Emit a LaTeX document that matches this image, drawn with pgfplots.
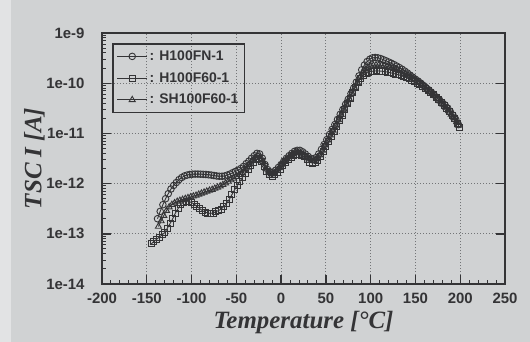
\documentclass[border=0pt]{standalone}
\usepackage{fontspec}
\setmainfont{Liberation Serif}
\setsansfont{Liberation Sans}
\usepackage{pgfplots}
\usepackage{pgfplotstable}
\pgfplotsset{compat=1.18}

\definecolor{paper}{RGB}{208,210,211}
\definecolor{paperedge}{RGB}{226,227,228}
\definecolor{ink}{RGB}{52,52,54}
\definecolor{gridc}{RGB}{115,117,119}

% H100FN-1
\pgfplotstableread{
T I
-138 2.0e-13
-135 2.8e-13
-132 3.8e-13
-129 5.0e-13
-126 6.3e-13
-123 7.8e-13
-120 9.2e-13
-117 1.05e-12
-114 1.2e-12
-111 1.32e-12
-108 1.42e-12
-105 1.48e-12
-102 1.52e-12
-99 1.54e-12
-96 1.55e-12
-93 1.55e-12
-90 1.54e-12
-87 1.53e-12
-84 1.52e-12
-81 1.5e-12
-78 1.48e-12
-75 1.45e-12
-72 1.42e-12
-69 1.40e-12
-66 1.40e-12
-63 1.42e-12
-60 1.48e-12
-57 1.55e-12
-54 1.65e-12
-51 1.75e-12
-48 1.85e-12
-45 2.0e-12
-42 2.2e-12
-39 2.5e-12
-36 2.8e-12
-33 3.2e-12
-30 3.6e-12
-27 4.0e-12
-24 3.9e-12
-21 3.2e-12
-18 2.4e-12
-15 1.9e-12
-12 1.7e-12
-9 1.7e-12
-6 1.85e-12
-3 2.1e-12
0 2.4e-12
3 2.8e-12
6 3.2e-12
9 3.6e-12
12 4.0e-12
15 4.4e-12
18 4.6e-12
21 4.6e-12
24 4.3e-12
27 3.9e-12
30 3.5e-12
33 3.2e-12
36 3.1e-12
39 3.3e-12
42 3.9e-12
45 4.8e-12
48 6.0e-12
51 7.5e-12
54 9.5e-12
57 1.2e-11
60 1.5e-11
63 1.9e-11
66 2.4e-11
69 3.0e-11
72 3.8e-11
75 4.8e-11
78 6.2e-11
81 8.0e-11
84 1.05e-10
87 1.4e-10
90 1.85e-10
93 2.3e-10
96 2.7e-10
99 3.0e-10
102 3.2e-10
105 3.25e-10
108 3.2e-10
111 3.1e-10
114 2.95e-10
117 2.8e-10
120 2.65e-10
123 2.5e-10
126 2.35e-10
129 2.2e-10
132 2.05e-10
135 1.9e-10
138 1.75e-10
141 1.6e-10
144 1.45e-10
147 1.32e-10
150 1.2e-10
153 1.1e-10
156 1.0e-10
159 9.0e-11
162 8.1e-11
165 7.3e-11
168 6.5e-11
171 5.8e-11
174 5.1e-11
177 4.6e-11
180 4.1e-11
183 3.7e-11
186 3.2e-11
189 2.7e-11
192 2.3e-11
195 1.9e-11
198 1.5e-11
}\fn

% H100F60-1
\pgfplotstableread{
T I
-145 6.3e-14
-142 7.0e-14
-139 7.8e-14
-136 8.6e-14
-133 9.5e-14
-130 1.05e-13
-127 1.3e-13
-124 1.6e-13
-121 2.0e-13
-118 2.6e-13
-115 3.2e-13
-112 3.8e-13
-109 4.3e-13
-106 4.5e-13
-103 4.4e-13
-100 4.2e-13
-97 3.9e-13
-94 3.5e-13
-91 3.2e-13
-88 2.9e-13
-85 2.7e-13
-82 2.6e-13
-79 2.55e-13
-76 2.6e-13
-73 2.75e-13
-70 2.9e-13
-67 3.1e-13
-64 3.5e-13
-61 4.0e-13
-58 4.8e-13
-55 6.0e-13
-52 7.5e-13
-49 9.2e-13
-46 1.1e-12
-43 1.35e-12
-40 1.6e-12
-37 1.9e-12
-34 2.3e-12
-31 2.7e-12
-28 3.0e-12
-25 3.1e-12
-22 2.8e-12
-19 2.2e-12
-16 1.75e-12
-13 1.5e-12
-10 1.42e-12
-7 1.5e-12
-4 1.7e-12
-1 1.95e-12
2 2.3e-12
5 2.6e-12
8 3.0e-12
11 3.3e-12
14 3.6e-12
17 3.8e-12
20 3.85e-12
23 3.7e-12
26 3.4e-12
29 3.0e-12
32 2.7e-12
35 2.55e-12
38 2.6e-12
41 2.9e-12
44 3.5e-12
47 4.4e-12
50 5.5e-12
53 7.0e-12
56 8.8e-12
59 1.1e-11
62 1.4e-11
65 1.8e-11
68 2.3e-11
71 3.0e-11
74 3.9e-11
77 5.0e-11
80 6.5e-11
83 8.3e-11
86 1.05e-10
89 1.27e-10
92 1.45e-10
95 1.58e-10
98 1.67e-10
101 1.72e-10
104 1.75e-10
107 1.76e-10
110 1.75e-10
113 1.73e-10
116 1.7e-10
119 1.66e-10
122 1.62e-10
125 1.57e-10
128 1.52e-10
131 1.47e-10
134 1.41e-10
137 1.35e-10
140 1.29e-10
143 1.22e-10
146 1.15e-10
149 1.08e-10
152 1.01e-10
155 9.4e-11
158 8.7e-11
161 8.0e-11
164 7.3e-11
167 6.6e-11
170 5.9e-11
173 5.3e-11
176 4.7e-11
179 4.1e-11
182 3.6e-11
185 3.1e-11
188 2.7e-11
191 2.3e-11
194 1.95e-11
197 1.6e-11
199 1.3e-11
}\fsixty

% SH100F60-1
\pgfplotstableread{
T I
-137 1.4e-13
-134 1.8e-13
-131 2.3e-13
-128 2.9e-13
-125 3.4e-13
-122 3.8e-13
-119 4.1e-13
-116 4.4e-13
-113 4.6e-13
-110 4.8e-13
-107 5.0e-13
-104 5.2e-13
-101 5.4e-13
-98 5.6e-13
-95 5.8e-13
-92 6.1e-13
-89 6.4e-13
-86 6.7e-13
-83 7.0e-13
-80 7.3e-13
-77 7.6e-13
-74 8.0e-13
-71 8.4e-13
-68 8.9e-13
-65 9.5e-13
-62 1.02e-12
-59 1.1e-12
-56 1.18e-12
-53 1.27e-12
-50 1.38e-12
-47 1.5e-12
-44 1.65e-12
-41 1.85e-12
-38 2.1e-12
-35 2.45e-12
-32 2.85e-12
-29 3.3e-12
-26 3.6e-12
-23 3.4e-12
-20 2.7e-12
-17 2.0e-12
-14 1.65e-12
-11 1.55e-12
-8 1.6e-12
-5 1.8e-12
-2 2.05e-12
1 2.4e-12
4 2.75e-12
7 3.1e-12
10 3.5e-12
13 3.85e-12
16 4.1e-12
19 4.2e-12
22 4.1e-12
25 3.8e-12
28 3.4e-12
31 3.05e-12
34 2.85e-12
37 2.85e-12
40 3.1e-12
43 3.7e-12
46 4.6e-12
49 5.8e-12
52 7.3e-12
55 9.2e-12
58 1.15e-11
61 1.45e-11
64 1.85e-11
67 2.35e-11
70 3.0e-11
73 3.85e-11
76 4.9e-11
79 6.3e-11
82 8.0e-11
85 1.02e-10
88 1.3e-10
91 1.6e-10
94 1.88e-10
97 2.08e-10
100 2.2e-10
103 2.27e-10
106 2.3e-10
109 2.3e-10
112 2.27e-10
115 2.22e-10
118 2.16e-10
121 2.09e-10
124 2.01e-10
127 1.93e-10
130 1.84e-10
133 1.75e-10
136 1.65e-10
139 1.55e-10
142 1.45e-10
145 1.35e-10
148 1.25e-10
151 1.15e-10
154 1.06e-10
157 9.7e-11
160 8.8e-11
163 8.0e-11
166 7.2e-11
169 6.4e-11
172 5.7e-11
175 5.0e-11
178 4.4e-11
181 3.8e-11
184 3.3e-11
187 2.8e-11
190 2.4e-11
193 2.05e-11
196 1.7e-11
198 1.45e-11
}\shsixty

\begin{document}
\begin{tikzpicture}
% paper
\fill[paper] (-102bp,-58bp) rectangle (428bp,284bp);
\fill[paperedge] (-102bp,-58bp) rectangle (-91bp,284bp);
\begin{axis}[
  at={(0,0)}, anchor=south west,
  scale only axis, width=403bp, height=251bp,
  xmin=-200, xmax=250,
  ymode=log, ymin=1e-14, ymax=1e-9,
  xtick={-200,-150,...,250},
  xticklabels={-200,-150,-100,-50,0,50,100,150,200,250},
  minor x tick num=4,
  ytick={1e-14,1e-13,1e-12,1e-11,1e-10,1e-9},
  yticklabels={1e-14,1e-13,1e-12,1e-11,1e-10,1e-9},
  minor ytick={2e-14,3e-14,4e-14,5e-14,6e-14,7e-14,8e-14,9e-14,
               2e-13,3e-13,4e-13,5e-13,6e-13,7e-13,8e-13,9e-13,
               2e-12,3e-12,4e-12,5e-12,6e-12,7e-12,8e-12,9e-12,
               2e-11,3e-11,4e-11,5e-11,6e-11,7e-11,8e-11,9e-11,
               2e-10,3e-10,4e-10,5e-10,6e-10,7e-10,8e-10,9e-10},
  xtick pos=bottom, ytick pos=left,
  extra y ticks={1e-13,1e-12,1e-11,1e-10},
  extra y tick labels={},
  extra y tick style={ytick pos=right, grid=none},
  tick align=inside,
  major tick length=9bp, minor tick length=4.5bp,
  every tick/.style={ink, line width=1.4bp},
  minor tick style={ink, line width=1bp},
  axis line style={ink, line width=2.2bp},
  grid=major,
  major grid style={gridc, line width=0.8bp, dash pattern=on 1.2bp off 1.8bp},
  tick label style={font=\fontsize{15}{18}\selectfont\sffamily\bfseries, text=ink},
  yticklabel style={xshift=-14bp},
  xticklabel style={yshift=-6bp},
  xlabel={Temperature [\textdegree C]},
  ylabel={TSC \textit{I} [A]},
  label style={font=\fontsize{25}{28}\selectfont\rmfamily\bfseries\itshape, text=ink},
  xlabel style={at={(axis description cs:0.5,-0.155)}, anchor=center},
  ylabel style={at={(axis description cs:-0.168,0.5)}, anchor=center},
  legend style={at={(axis description cs:0.025,0.96)}, anchor=north west,
    draw=ink, line width=1.5bp, fill=none,
    font=\fontsize{14}{16}\selectfont\sffamily\bfseries, text=ink,
    row sep=6.5bp, inner xsep=4bp, inner ysep=5bp},
  legend cell align=left,
  legend image code/.code={%
    \draw[mark repeat=2, mark phase=2, line width=0.8bp]
      plot coordinates {(0bp,0bp) (15bp,0bp) (30bp,0bp)};},
  every axis plot/.append style={ink, line width=0.9bp},
]
\addplot[mark=o, mark size=3.3bp, mark options={line width=0.9bp}]
  table[x=T, y=I] {\fn};
\addlegendentry{: H100FN-1}
\addplot[mark=square, mark size=3bp, mark options={line width=0.9bp}]
  table[x=T, y=I] {\fsixty};
\addlegendentry{: H100F60-1}
\addplot[mark=triangle, mark size=3.5bp, mark options={line width=0.9bp}]
  table[x=T, y=I] {\shsixty};
\addlegendentry{: SH100F60-1}
\end{axis}
\pgfresetboundingbox
\useasboundingbox (-102bp,-58bp) rectangle (428bp,284bp);
\end{tikzpicture}
\end{document}
